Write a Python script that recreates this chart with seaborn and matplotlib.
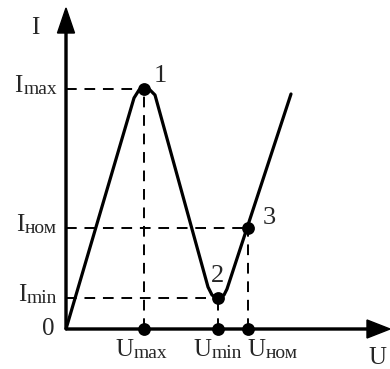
import matplotlib
matplotlib.use("Agg")
import matplotlib.pyplot as plt
import seaborn as sns
import pandas as pd

# Current-voltage characteristic, in drawing units
curve_u = [0.0, 6.8, 7.3, 7.8, 8.4, 8.9, 14.2, 14.6, 15.2, 15.8, 16.1, 22.5]
curve_i = [0.0, 23.1, 23.9, 24.1, 23.9, 23.4, 4.2, 3.4, 3.0, 3.4, 4.0, 23.5]

# Characteristic points 1, 2, 3
point_names = ["1", "2", "3"]
point_u = [7.8, 15.2, 18.2]   # U_max, U_min, U_ном
point_i = [24.0, 3.1, 10.1]   # I_max, I_min, I_ном

u_subs = ["max", "min", "ном"]
i_subs = ["max", "min", "ном"]

sns.set_style("white")
plt.rcParams["font.family"] = ["Liberation Serif", "DejaVu Serif"]

MAIN_FS = 18
SUB_FS = 14
NUM_FS = 19

fig = plt.figure(figsize=(3.9, 3.69), dpi=100)
ax = fig.add_axes([0, 0, 1, 1])
ax.set_xlim(-6.6, 32.4)
ax.set_ylim(-4.0, 32.9)
ax.set_axis_off()

# Coordinate axes with arrow heads
ax.arrow(0, 0, 0, 32.1, width=0.2, head_width=1.7, head_length=2.5,
         length_includes_head=True, color="black", zorder=3)
ax.arrow(0, 0, 32.4, 0, width=0.2, head_width=1.8, head_length=2.3,
         length_includes_head=True, color="black", zorder=3)

# Dashed projection lines from each point to both axes
dash = (0, (5.5, 4.0))
for u, i in zip(point_u, point_i):
    ax.plot([0, u], [i, i], color="black", lw=1.4, ls=dash, zorder=2)
    ax.plot([u, u], [0, i], color="black", lw=1.4, ls=dash, zorder=2)

# The curve itself
curve = pd.DataFrame({"U": curve_u, "I": curve_i})
sns.lineplot(data=curve, x="U", y="I", sort=False, estimator=None,
             color="black", lw=2.3, ax=ax, zorder=4)

# Dots on the curve and on the U axis
dots = pd.DataFrame({"U": point_u + point_u,
                     "I": point_i + [0.0] * len(point_u)})
sns.scatterplot(data=dots, x="U", y="I", s=85, color="black",
                edgecolor="black", linewidth=0, ax=ax, zorder=5)
ax.set_xlabel("")
ax.set_ylabel("")

# Point numbers
num_offsets = [(11.5, 9.0), (0, 16), (15, 7.0)]
for name, u, i, off in zip(point_names, point_u, point_i, num_offsets):
    ax.annotate(name, xy=(u, i), xytext=off, textcoords="offset points",
                ha="center", va="center", fontsize=NUM_FS)

# Axis titles and origin
ax.text(-3.1, 30.1, "I", ha="center", va="center", fontsize=MAIN_FS)
ax.text(30.2, -1.8, "U", ha="left", va="top", fontsize=MAIN_FS)
ax.text(-1.1, 0, "0", ha="right", va="center", fontsize=MAIN_FS)

# Current labels on the I axis
for sub, i in zip(i_subs, point_i):
    s = ax.text(-0.9, i - 0.5, sub, ha="right", va="baseline", fontsize=SUB_FS)
    ax.annotate("I", xy=(0, 0), xycoords=s, xytext=(-0.3, 4.0),
                textcoords="offset points", ha="right", va="baseline",
                fontsize=MAIN_FS)

# Voltage labels on the U axis
u_label_dx = [-2.9, -2.5, -0.1]
for sub, u, dx in zip(u_subs, point_u, u_label_dx):
    m = ax.text(u + dx, -2.7, "U", ha="left", va="baseline", fontsize=MAIN_FS)
    ax.annotate(sub, xy=(1, 0), xycoords=m, xytext=(0.3, 2.4),
                textcoords="offset points", ha="left", va="baseline",
                fontsize=SUB_FS)

fig.savefig("out.png", dpi=100)
